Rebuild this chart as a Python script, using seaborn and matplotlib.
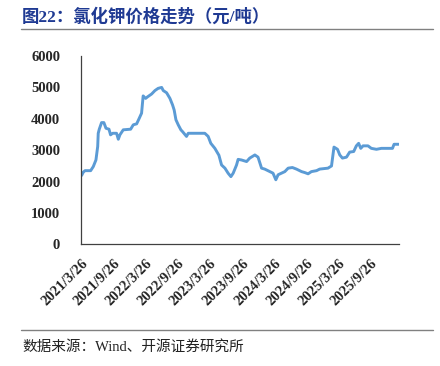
import pandas as pd
import seaborn as sns
import matplotlib.pyplot as plt
from matplotlib.lines import Line2D

# potassium chloride price, yuan/ton
dates = [
    "2021-03-26", "2021-03-30", "2021-04-08", "2021-04-18", "2021-05-20", "2021-06-04",
    "2021-06-19", "2021-06-29", "2021-07-02", "2021-07-08", "2021-07-21", "2021-08-03",
    "2021-08-15", "2021-09-01", "2021-09-10", "2021-09-22", "2021-10-14", "2021-10-24",
    "2021-11-02", "2021-11-21", "2022-01-02", "2022-01-17", "2022-02-05", "2022-02-20",
    "2022-03-05", "2022-03-14", "2022-03-28", "2022-04-08", "2022-05-01", "2022-05-20",
    "2022-06-07", "2022-06-27", "2022-07-06", "2022-07-25", "2022-08-13", "2022-08-28",
    "2022-09-06", "2022-09-16", "2022-09-29", "2022-10-14", "2022-10-24", "2022-11-15",
    "2022-11-25", "2023-02-27", "2023-03-18", "2023-04-02", "2023-04-25", "2023-05-18",
    "2023-06-02", "2023-06-21", "2023-07-09", "2023-07-25", "2023-08-07", "2023-08-26",
    "2023-09-04", "2023-09-23", "2023-10-22", "2023-11-09", "2023-12-08", "2023-12-26",
    "2024-01-15", "2024-02-02", "2024-03-02", "2024-03-20", "2024-04-05", "2024-04-18",
    "2024-05-07", "2024-05-26", "2024-06-14", "2024-07-08", "2024-07-31", "2024-08-29",
    "2024-09-16", "2024-10-05", "2024-10-24", "2024-11-22", "2024-12-10", "2025-01-26",
    "2025-02-15", "2025-03-01", "2025-03-21", "2025-04-03", "2025-04-18", "2025-05-11",
    "2025-05-29", "2025-06-21", "2025-07-06", "2025-07-19", "2025-07-31", "2025-08-13",
    "2025-09-10", "2025-09-29", "2025-10-28", "2025-11-25", "2026-01-27", "2026-02-05",
    "2026-03-03",
]
prices = [
    2200, 2200, 2300, 2350, 2350, 2480,
    2690, 3120, 3540, 3670, 3880, 3880,
    3700, 3670, 3490, 3540, 3540, 3350,
    3490, 3650, 3670, 3810, 3840, 4020,
    4180, 4730, 4650, 4700, 4790, 4900,
    4970, 5000, 4900, 4830, 4650, 4440,
    4280, 3970, 3810, 3650, 3590, 3440,
    3540, 3540, 3440, 3220, 3060, 2840,
    2530, 2430, 2270, 2160, 2270, 2530,
    2710, 2690, 2640, 2750, 2850, 2780,
    2430, 2400, 2320, 2270, 2060, 2220,
    2270, 2320, 2430, 2450, 2400, 2320,
    2290, 2250, 2320, 2350, 2400, 2430,
    2500, 3100, 3030, 2850, 2750, 2780,
    2940, 2960, 3140, 3220, 3060, 3140,
    3140, 3060, 3030, 3060, 3060, 3190,
    3190,
]
tick_dates = ["2021-03-26", "2021-09-26", "2022-03-26", "2022-09-26", "2023-03-26",
              "2023-09-26", "2024-03-26", "2024-09-26", "2025-03-26", "2025-09-26"]
tick_labels = ["2021/3/26", "2021/9/26", "2022/3/26", "2022/9/26", "2023/3/26",
               "2023/9/26", "2024/3/26", "2024/9/26", "2025/3/26", "2025/9/26"]
y_ticks = [0, 1000, 2000, 3000, 4000, 5000, 6000]

df = pd.DataFrame({"date": pd.to_datetime(dates), "price": prices})

sns.set_style("white")
plt.rcParams['font.family'] = ['Liberation Serif', 'Noto Sans CJK SC']

fig = plt.figure(figsize=(4.4, 3.66), dpi=100)
ax = fig.add_axes([0.184, 0.332, 0.722, 0.515])

sns.lineplot(data=df, x="date", y="price", ax=ax, color="#5B9BD5", linewidth=2.1)

ax.set_xlim(pd.Timestamp("2021-03-26"), pd.Timestamp("2026-03-03"))
ax.set_ylim(0, 6000)
ax.set_yticks(y_ticks)
ax.set_yticklabels([str(v) for v in y_ticks], fontsize=10.5, fontweight="bold")
ax.set_xticks(pd.to_datetime(tick_dates))
ax.set_xticklabels(tick_labels, rotation=45, ha="right", rotation_mode="anchor",
                   fontsize=10.5, fontweight="bold")
ax.tick_params(axis="both", direction="in", length=4, width=0.8, color="#404040")
ax.tick_params(axis="x", pad=9)
ax.tick_params(axis="y", pad=15)
ax.set_xlabel("")
ax.set_ylabel("")
for side in ["top", "right"]:
    ax.spines[side].set_visible(False)
for side in ["left", "bottom"]:
    ax.spines[side].set_color("#404040")
    ax.spines[side].set_linewidth(0.9)

# header and footer
fig.text(0.05, 0.955, "图22：氯化钾价格走势（元/吨）", fontsize=12.5, fontweight="bold",
         color="#1F3A93", va="center", ha="left")
fig.add_artist(Line2D([0.048, 0.985], [0.921, 0.921], color="#808080", lw=1.0))
fig.add_artist(Line2D([0.048, 0.985], [0.098, 0.098], color="#808080", lw=1.0))
fig.text(0.05, 0.052, "数据来源：Wind、开源证券研究所", fontsize=10.5, color="#222222",
         va="center", ha="left")

fig.savefig("out.png", dpi=100)
